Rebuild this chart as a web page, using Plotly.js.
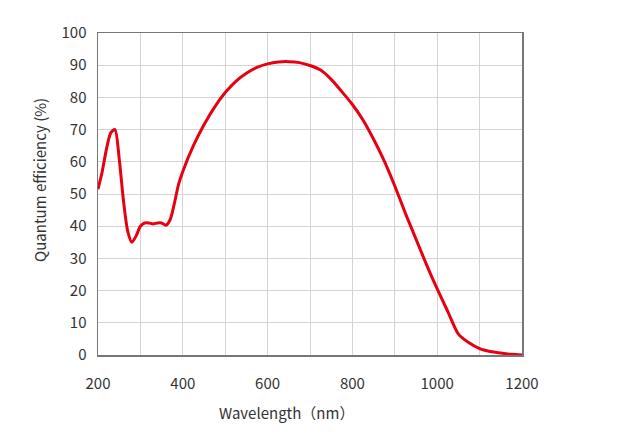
<!DOCTYPE html>
<html>
<head>
<meta charset="utf-8">
<script src="https://cdn.plot.ly/plotly-3.0.1.min.js"></script>
<style>html,body{margin:0;padding:0;background:#fff;}#chart{width:635px;height:447px;}</style>
</head>
<body>
<div id="chart"></div>
<script>
const wavelength = [200,210,220,230,240,250,260,270,280,290,300,310,320,330,340,350,360,370,380,390,400,425,450,475,500,525,550,575,600,625,650,675,700,725,750,775,800,825,850,875,900,925,950,975,1000,1025,1050,1075,1100,1125,1150,1175,1200];
const qe = [51.5,57,64,69,70,61,48,38.5,35,37,40,41,41,40.7,41,41,40.3,42,47,53,57,65,71.5,77,81.5,85,87.5,89.3,90.4,91,91.1,90.8,89.9,88.5,85.6,81.8,77.8,73,67,60.3,52.5,44,36,28,20.5,13.5,6.5,3.8,2,1.1,0.6,0.2,0];
const xTicks = [200,400,600,800,1000,1200];
const yTicks = [0,10,20,30,40,50,60,70,80,90,100];
const xTitle = 'Wavelength（nm）';
const yTitle = 'Quantum efficiency (%)';

const font = "'Noto Sans CJK JP', 'Noto Sans', sans-serif";
Plotly.newPlot('chart', [{
  x: wavelength, y: qe, type: 'scatter', mode: 'lines',
  line: {color: '#e60012', width: 3, shape: 'spline', smoothing: 0.7},
  hoverinfo: 'skip'
}], {
  width: 635, height: 447,
  margin: {l: 98, r: 113, t: 33, b: 92},
  paper_bgcolor: '#fff', plot_bgcolor: '#fff',
  showlegend: false,
  font: {family: font, color: '#333', size: 15},
  xaxis: {
    range: [200, 1200], tickvals: xTicks, ticktext: xTicks.map(String),
    showgrid: true, gridcolor: '#d4d4d4', gridwidth: 1,
    minor: {dtick: 100, showgrid: true, gridcolor: '#d4d4d4', gridwidth: 1},
    showline: true, linecolor: '#777', linewidth: 1.5, mirror: true,
    ticks: '', ticklabelstandoff: 14, zeroline: false,
    tickfont: {family: font, size: 15, color: '#333'}
  },
  yaxis: {
    range: [0, 100], tickvals: yTicks, ticktext: yTicks.map(String),
    showgrid: true, gridcolor: '#d4d4d4', gridwidth: 1,
    showline: true, linecolor: '#777', linewidth: 1.5, mirror: true,
    ticks: '', ticklabelstandoff: 7, zeroline: false,
    tickfont: {family: font, size: 15, color: '#333'}
  },
  annotations: [
    {text: xTitle, xref: 'paper', yref: 'paper', x: 0.4434, y: -0.179, xanchor: 'center', yanchor: 'middle', showarrow: false, font: {family: font, size: 15, color: '#333'}},
    {text: yTitle, xref: 'paper', yref: 'paper', x: -0.137, y: 0.5435, xanchor: 'center', yanchor: 'middle', textangle: -90, showarrow: false, font: {family: font, size: 15, color: '#333'}}
  ]
}, {staticPlot: true});
</script>
</body>
</html>
